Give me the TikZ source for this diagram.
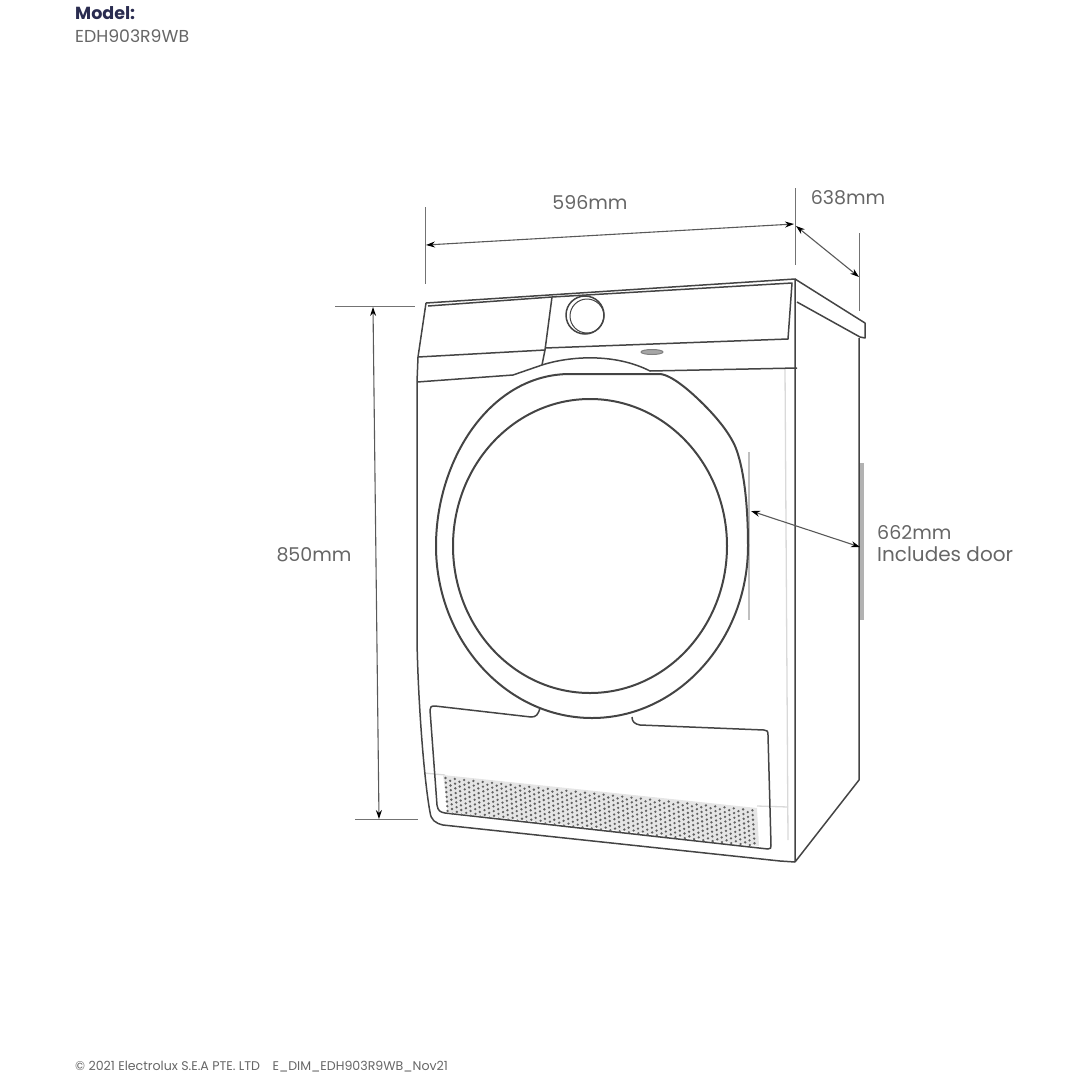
\documentclass[tikz,border=0pt]{standalone}
\usepackage{fontspec}
\setmainfont{Poppins}
\usetikzlibrary{arrows.meta}
\definecolor{inkgrey}{HTML}{444444}
\definecolor{labelgrey}{HTML}{666666}
\definecolor{navyink}{HTML}{2A2C50}
\tikzset{
	bodyline/.style={line width=1.5pt, color=inkgrey, line join=round},
	doorline/.style={line width=2pt, color=inkgrey},
	paleline/.style={line width=1.3pt, color=black!15},
	extline/.style={line width=1pt, color=black!55},
	dimline/.style={line width=1.1pt, color=black!65, {Stealth[length=9pt,width=6pt,color=black]}-{Stealth[length=9pt,width=6pt,color=black]}},
	dimlabel/.style={text=labelgrey, font=\fontsize{19}{23}\selectfont, inner sep=0pt},
	smalllabel/.style={text=labelgrey, font=\fontsize{17.3}{20}\selectfont, inner sep=0pt, anchor=west},
	tinylabel/.style={text=black!60, font=\fontsize{12.6}{15}\selectfont, inner sep=0pt, anchor=west}
}
\begin{document}
\begin{tikzpicture}[x=1pt, y=-1pt]
	\useasboundingbox (0, 0) rectangle (1080, 1080);
	%%%%% HEADER %%%%%
	\node[smalllabel, text=navyink, font=\fontsize{17.5}{20}\selectfont\bfseries] (modelhead) at (75, 13) {Model:};
	\node[smalllabel] (modelname) at (75, 36) {EDH903R9WB};
	\node[tinylabel] (copyright) at (75, 1067) {© 2021 Electrolux S.E.A PTE. LTD\quad E\_DIM\_EDH903R9WB\_Nov21};

	%%%%% PALE LINES %%%%%
	\draw[paleline] (785, 368) -- (788, 840);
	\draw[paleline] (424, 773) -- (445, 775);
	\draw[paleline] (757, 806) -- (788, 807);
	\draw[line width=1.5pt, color=black!25] (749, 452) -- (749, 620);
	\draw[line width=4.5pt, color=black!30] (862, 463) -- (862, 620);

	%%%%% CABINET %%%%%
	\draw[bodyline] (426, 303) -- (795, 279) -- (795, 862);
	\draw[bodyline] (428, 306) -- (552, 297) -- (792, 283) -- (788, 339) -- (545, 348);
	\draw[bodyline] (426, 303) -- (418, 357) -- (417, 382) -- (417, 640)
		.. controls (418, 700) and (424, 780) .. (430, 812)
		.. controls (431, 820) and (435, 823) .. (443, 825) -- (780, 861) -- (795, 862);
	\draw[bodyline] (795, 279) -- (865, 323) -- (865, 338) -- (860, 337) -- (797, 302);
	\draw[bodyline] (859, 338) -- (859, 780) -- (795, 862);

	%%%%% CONTROL PANEL %%%%%
	\draw[bodyline] (552, 297) -- (545, 350) -- (542, 365);
	\draw[bodyline] (418, 357) -- (545, 350);
	\draw[bodyline] (417, 382) -- (513, 375) -- (542, 365)
		.. controls (570, 356) and (615, 353) .. (650, 371) -- (797, 368);
	\draw[bodyline] (585, 315) circle (19);
	\draw[line width=1pt, color=inkgrey] (587, 316) circle (17);
	\draw[line width=1pt, color=black!50, fill=black!35] (652, 352) ellipse (11 and 2.5);

	%%%%% DOOR %%%%%
	\draw[doorline] (436, 546) .. controls (436, 460) and (490, 374) .. (570, 374) -- (660, 374)
		.. controls (672, 375) and (692, 392) .. (710, 411)
		.. controls (722, 424) and (730, 435) .. (735, 446)
		.. controls (743, 465) and (748, 500) .. (748, 546)
		.. controls (748, 640) and (678, 718) .. (592, 718)
		.. controls (506, 718) and (436, 640) .. (436, 546) -- cycle;
	\draw[doorline] (590, 546) ellipse (137 and 147);

	%%%%% LOWER PANEL %%%%%
	\draw[bodyline] (540, 708) .. controls (538, 715) and (536, 717) .. (531, 717) -- (435, 706)
		.. controls (431, 706) and (430, 707) .. (430, 710) -- (437, 805)
		.. controls (438, 811) and (440, 812) .. (445, 813) -- (768, 849)
		.. controls (771, 849) and (771, 848) .. (771, 845) -- (768, 735)
		.. controls (768, 731) and (767, 730) .. (764, 730) -- (640, 725)
		.. controls (635, 724) and (632, 722) .. (632, 717);

	%%%%% GRILLE %%%%%
	\fill[color=black!10] (443, 775) -- (757, 808) -- (759, 846) -- (448, 812) -- cycle;
	\foreach \i in {0,...,66}
		\foreach \j in {0,...,7}
			\fill[color=black!62] ({445.5+\i*4.65+0.3*\j}, {778+\i*0.49+\j*4.7+mod(\i,2)*2.3}) circle (1.3);

	%%%%% DIMENSIONS %%%%%
	\draw[extline] (425, 207) -- (425, 284);
	\draw[extline] (795, 188) -- (795, 265);
	\draw[extline] (859, 233) -- (859, 311);
	\draw[extline] (335, 306) -- (415, 306);
	\draw[extline] (355, 819) -- (418, 819);

	\coordinate (widthleft) at (426, 245);
	\coordinate (widthright) at (794, 224);
	\coordinate (deepstart) at (796, 226);
	\coordinate (deepend) at (859, 277);
	\coordinate (hightop) at (373, 307);
	\coordinate (highbottom) at (379, 819);
	\coordinate (doorfront) at (751, 511);
	\coordinate (doorback) at (860, 547);
	\draw[dimline] (widthleft) -- (widthright);
	\draw[dimline] (deepstart) -- (deepend);
	\draw[dimline] (hightop) -- (highbottom);
	\draw[dimline] (doorfront) -- (doorback);

	\node[dimlabel] (widthlabel) at (590, 203) {596mm};
	\node[dimlabel] (deeplabel) at (848, 198) {638mm};
	\node[dimlabel] (highlabel) at (314, 555) {850mm};
	\node[dimlabel, anchor=west] (doorlabel) at (877, 532) {662mm};
	\node[dimlabel, anchor=west, font=\fontsize{20}{24}\selectfont] (doornote) at (877, 554) {Includes door};
\end{tikzpicture}
\end{document}
